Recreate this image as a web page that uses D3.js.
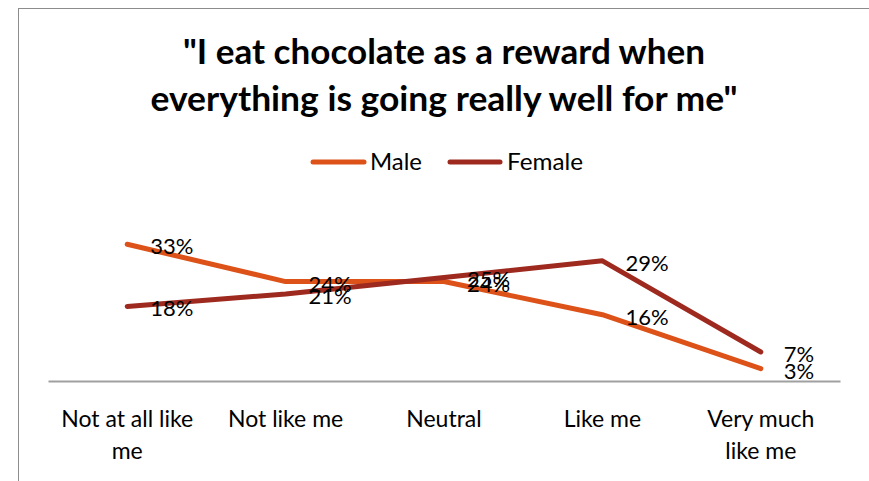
<!DOCTYPE html>
<html>
<head>
<meta charset="utf-8">
<script src="https://cdn.jsdelivr.net/npm/d3@7"></script>
<style>
  html, body { margin: 0; padding: 0; background: #fff; }
  svg { display: block; font-family: Lato, "Open Sans", sans-serif; }
</style>
</head>
<body>
<svg id="chart" width="869" height="481"></svg>
<script>
// Survey answers: share of respondents per answer
const categories = ["Not at all like me", "Not like me", "Neutral", "Like me", "Very much like me"];
const maleValues = [33, 24, 24, 16, 3];
const femaleValues = [18, 21, 25, 29, 7];
const seriesNames = ["Male", "Female"];
const seriesColors = ["#DC5219", "#9E2A1F"];
const titleLines = ["\"I eat chocolate as a reward when", "everything is going really well for me\""];

const series = [
  { name: seriesNames[0], color: seriesColors[0], values: maleValues },
  { name: seriesNames[1], color: seriesColors[1], values: femaleValues }
];

const svg = d3.select("#chart");
const W = 869, H = 481;

// Outer frame of the chart area
svg.append("rect")
  .attr("x", 18.5).attr("y", 8.5)
  .attr("width", W + 20).attr("height", H + 20)
  .attr("fill", "#fff").attr("stroke", "#8c8c8c").attr("stroke-width", 1);

// Plot region
const plot = { left: 48, right: 840, top: 236, bottom: 381 };

const x = d3.scaleBand()
  .domain(categories)
  .range([plot.left, plot.right])
  .paddingInner(0).paddingOuter(0);

const y = d3.scaleLinear()
  .domain([0, 35])
  .range([plot.bottom, plot.top]);

const cx = c => x(c) + x.bandwidth() / 2;

// Title: tall, narrow bold face squeezed to its line width
const titleCenter = 444;
const titleWidths = [522, 587];
const titleBaselines = [64, 111];
titleLines.forEach((t, i) => {
  svg.append("text")
    .attr("x", titleCenter).attr("y", titleBaselines[i])
    .attr("text-anchor", "middle").attr("font-weight", 700).attr("fill", "#000")
    .style("font-size", "34px")
    .attr("textLength", titleWidths[i])
    .attr("lengthAdjust", "spacingAndGlyphs")
    .text(t);
});

// Legend
const legendItems = [
  { s: series[0], x0: 310, x1: 367, tx: 370, w: 52 },
  { s: series[1], x0: 447, x1: 503, tx: 507, w: 76 }
];
legendItems.forEach(it => {
  svg.append("line")
    .attr("x1", it.x0 + 3).attr("x2", it.x1 - 3)
    .attr("y1", 162).attr("y2", 162)
    .attr("stroke", it.s.color).attr("stroke-width", 5)
    .attr("stroke-linecap", "round");
  svg.append("text")
    .attr("x", it.tx).attr("y", 170)
    .attr("fill", "#000").style("font-size", "23px")
    .attr("textLength", it.w).attr("lengthAdjust", "spacingAndGlyphs")
    .text(it.s.name);
});

// Category axis
const axis = d3.axisBottom(x).tickSize(0).tickPadding(0);
const axisG = svg.append("g")
  .attr("transform", `translate(0,${plot.bottom})`)
  .call(axis);
axisG.select(".domain")
  .attr("stroke", "#a0a0a0").attr("stroke-width", 2);
const wrapLimit = 140;
axisG.selectAll(".tick text")
  .attr("fill", "#000")
  .style("font-size", "23px")
  .style("font-family", "Lato, 'Open Sans', sans-serif")
  .attr("y", 0).attr("dy", 0)
  .each(function (d) {
    // wrap label into lines that fit the band
    const el = d3.select(this);
    const words = d.split(" ");
    el.text(null);
    let line = [];
    let lineNo = 0;
    let tspan = el.append("tspan").attr("x", 0).attr("y", 46);
    words.forEach(w => {
      line.push(w);
      tspan.text(line.join(" "));
      if (tspan.node().getComputedTextLength() > wrapLimit && line.length > 1) {
        line.pop();
        tspan.text(line.join(" "));
        line = [w];
        lineNo++;
        tspan = el.append("tspan").attr("x", 0).attr("y", 46 + lineNo * 32).text(w);
      }
    });
  });

// Series lines
const lineGen = d3.line()
  .x((v, i) => cx(categories[i]))
  .y(v => y(v));

svg.append("g").selectAll("path")
  .data(series)
  .join("path")
  .attr("d", s => lineGen(s.values))
  .attr("fill", "none")
  .attr("stroke", s => s.color)
  .attr("stroke-width", 5)
  .attr("stroke-linejoin", "round")
  .attr("stroke-linecap", "round");

// Value labels to the right of each point
series.forEach(s => {
  svg.append("g").selectAll("text")
    .data(s.values)
    .join("text")
    .attr("x", (v, i) => cx(categories[i]) + 23)
    .attr("y", v => y(v) + 10)
    .attr("fill", "#000")
    .style("font-size", "22px")
    .text(v => v + "%");
});
</script>
</body>
</html>
